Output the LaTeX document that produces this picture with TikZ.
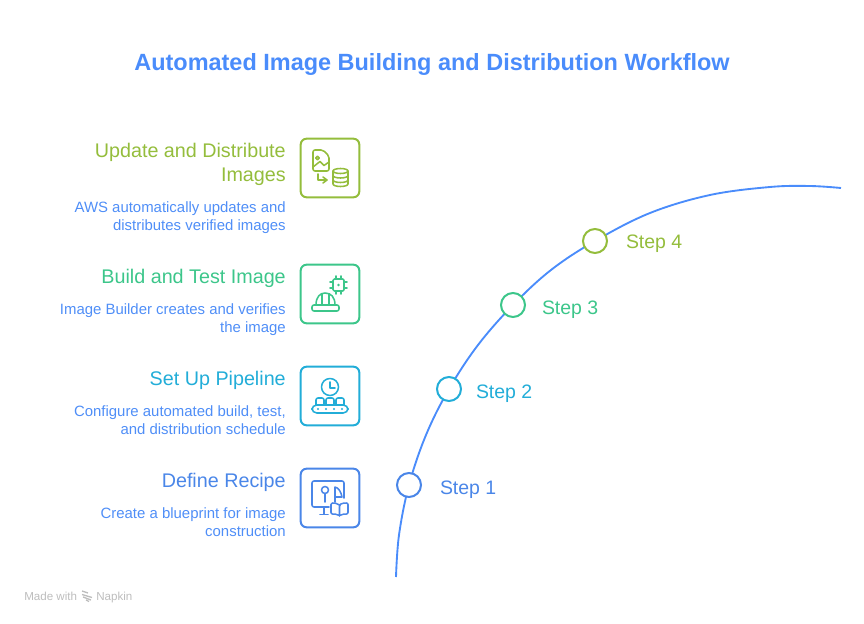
\documentclass[tikz,border=0pt]{standalone}
\usepackage{fontspec}
\usetikzlibrary{positioning}
\setmainfont{Liberation Sans}
\definecolor{Title}{HTML}{4A8CFB}
\definecolor{Desc}{HTML}{4F8EF7}
\definecolor{Lime}{HTML}{94BD3C}
\definecolor{Mint}{HTML}{3CC68A}
\definecolor{Cyan}{HTML}{22ADD8}
\definecolor{Blue}{HTML}{4A86E8}
\definecolor{Foot}{HTML}{BDBDBD}
\tikzset{
  iconbox/.style={draw=#1,line width=1.5pt,rounded corners=4.5pt,minimum size=44pt,inner sep=0pt,fill=white},
  stepdot/.style={circle,draw=#1,line width=1.5pt,fill=white,minimum size=18pt,inner sep=0pt},
  steplabel/.style={text=#1,font=\fontsize{14.6}{18}\selectfont,inner sep=0pt},
  heading/.style={text=#1,font=\fontsize{14.8}{18}\selectfont,align=right,anchor=north east,inner sep=0pt},
  descr/.style={text=Desc,font=\fontsize{11.2}{13.5}\selectfont,align=right,anchor=north east,inner sep=0pt},
  glyph/.style={draw=#1,line width=1.15pt,line cap=round,line join=round}
}
\begin{document}
\begin{tikzpicture}[x=0.75pt,y=-0.75pt,>=stealth]
    \useasboundingbox (0,0) rectangle (864,624);
    \node[text=Title,font=\fontsize{17.6}{22}\selectfont\bfseries] (title) at (432,64) {Automated Image Building and Distribution Workflow};

    % curve
    \draw[Title,line width=1.4pt] plot[smooth,tension=0.6] coordinates {(396,577) (399,535) (409,485) (426,435) (449,389) (478,345) (513,305) (551,270) (595,241) (650,213) (710,195) (770,187) (810,186) (841,188)};

    % steps
    \node[stepdot=Blue] (dot1) at (409,485) {};
    \node[stepdot=Cyan] (dot2) at (449,389) {};
    \node[stepdot=Mint] (dot3) at (513,305) {};
    \node[stepdot=Lime] (dot4) at (595,241) {};
    \node[steplabel=Blue,right=13.3pt of dot1,yshift=-3.75pt] (step1) {Step 1};
    \node[steplabel=Cyan,right=10.3pt of dot2,yshift=-3.75pt] (step2) {Step 2};
    \node[steplabel=Mint,right=11.8pt of dot3,yshift=-3.75pt] (step3) {Step 3};
    \node[steplabel=Lime,right=13.3pt of dot4,yshift=-2.25pt] (step4) {Step 4};

    % boxes
    \node[iconbox=Lime] (box4) at (330,168) {};
    \node[iconbox=Mint] (box3) at (330,294) {};
    \node[iconbox=Cyan] (box2) at (330,396) {};
    \node[iconbox=Blue] (box1) at (330,498) {};

    % text
    \node[heading=Lime] (head4) at (286,143) {Update and Distribute\\Images};
    \node[descr] (desc4) at (286,201) {AWS automatically updates and\\distributes verified images};
    \node[heading=Mint] (head3) at (286,269) {Build and Test Image};
    \node[descr] (desc3) at (286,303) {Image Builder creates and verifies\\the image};
    \node[heading=Cyan] (head2) at (286,371) {Set Up Pipeline};
    \node[descr] (desc2) at (286,405) {Configure automated build, test,\\and distribution schedule};
    \node[heading=Blue] (head1) at (286,473) {Define Recipe};
    \node[descr] (desc1) at (286,507) {Create a blueprint for image\\construction};

    % icon update
    \draw[glyph=Lime,rounded corners=1.5pt] (313,150) -- (323,150) -- (329,156) -- (329,171) -- (313,171) -- cycle;
    \draw[glyph=Lime] (317.5,158) circle (1.8);
    \draw[glyph=Lime] (313,167) -- (320,161.5) -- (324,165.5) -- (329,162);
    \draw[glyph=Lime] (318,174) -- (318,180) -- (326,180);
    \draw[glyph=Lime] (323,177) -- (327,180) -- (323,183);
    \draw[glyph=Lime] (333,171) -- (333,184) arc[start angle=180,end angle=360,x radius=7.5,y radius=-2.5] -- (348,171);
    \draw[glyph=Lime] (340.5,171) ellipse (7.5 and 2.5);
    \draw[glyph=Lime] (333,175.5) arc[start angle=180,end angle=360,x radius=7.5,y radius=-2.5];
    \draw[glyph=Lime] (333,180) arc[start angle=180,end angle=360,x radius=7.5,y radius=-2.5];

    % icon build
    \draw[glyph=Mint,rounded corners=1pt] (333,279) rectangle (344,291);
    \fill[Mint] (338.5,285) circle (1.3);
    \foreach \p in {336,341} {
      \draw[glyph=Mint] (\p,276) -- (\p,279);
      \draw[glyph=Mint] (\p,291) -- (\p,294);
    }
    \foreach \p in {282,288} {
      \draw[glyph=Mint] (330,\p) -- (333,\p);
      \draw[glyph=Mint] (344,\p) -- (347,\p);
    }
    \draw[glyph=Mint,rounded corners=1.5pt] (312,305) rectangle (339,311);
    \draw[glyph=Mint] (316,305) .. controls (316,297) and (320,293) .. (325,293) .. controls (331,293) and (335,297) .. (335,305);
    \draw[glyph=Mint] (322,305) -- (322,293.5) -- (329,293.5) -- (329,305);

    % icon pipeline
    \draw[glyph=Cyan] (330,387) circle (8.5);
    \draw[glyph=Cyan] (330,382) -- (330,388) -- (335,388);
    \draw[glyph=Cyan,rounded corners=1.5pt] (316,405) -- (316,398) -- (324,398) -- (324,405);
    \draw[glyph=Cyan,rounded corners=1.5pt] (326,405) -- (326,398) -- (334,398) -- (334,405);
    \draw[glyph=Cyan,rounded corners=1.5pt] (336,405) -- (336,398) -- (344,398) -- (344,405);
    \draw[glyph=Cyan,rounded corners=3.5pt] (312,405) rectangle (348,413);
    \foreach \p in {318,326,334,342} {
      \fill[Cyan] (\p,409) circle (1.1);
    }

    % icon recipe
    \draw[glyph=Blue,rounded corners=1.5pt] (344,498) -- (344,481) -- (312,481) -- (312,507) -- (329,507);
    \draw[glyph=Blue] (324,507) -- (324,514);
    \draw[glyph=Blue] (320,514.5) -- (328,514.5);
    \draw[glyph=Blue] (325,490) circle (3.5);
    \draw[glyph=Blue] (325,493.5) -- (325,502);
    \draw[glyph=Blue] (335,502) -- (335,487) .. controls (339,488) and (341,492) .. (342,497) -- (335,497);
    \draw[glyph=Blue,rounded corners=1pt] (339.5,505) .. controls (337,503) and (334,503) .. (331,503) -- (331,514) .. controls (334,514) and (337,514) .. (339.5,516) .. controls (342,514) and (345,514) .. (348,514) -- (348,503) .. controls (345,503) and (342,503) .. (339.5,505) -- (339.5,516);

    % footer
    \node[text=Foot,font=\fontsize{8.7}{10}\selectfont,anchor=base west,inner sep=0pt] (made) at (24,600) {Made with};
    \node[text=Foot,font=\fontsize{8.7}{10}\selectfont,anchor=base west,inner sep=0pt] (napkin) at (96,600) {Napkin};
    \coordinate (logo) at (82,591);
    \draw[Foot,line width=1pt] (logo) -- ++(6,2) ++(-6,1.5) -- ++(10,3) ++(-9,-0.5) -- ++(8,3) ++(-5,0) -- ++(3,1.5);
\end{tikzpicture}
\end{document}
